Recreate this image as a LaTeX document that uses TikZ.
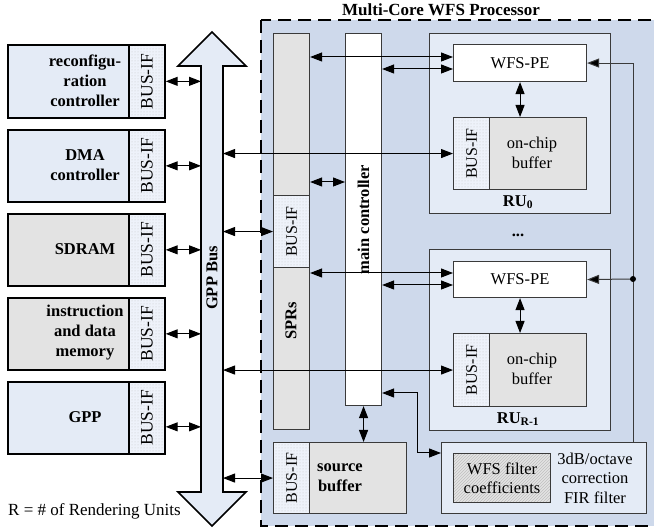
\documentclass[tikz,border=0pt]{standalone}
\usepackage{fontspec}
\setmainfont{Liberation Serif}
\usetikzlibrary{arrows.meta,patterns,calc}
\definecolor{lb}{HTML}{E4EBF6}
\definecolor{gr}{HTML}{E3E3E3}
\definecolor{outerc}{HTML}{CED9EB}
\definecolor{busifc}{HTML}{EEF2FA}
\definecolor{frm}{HTML}{3A3A3A}
\begin{document}
\begin{tikzpicture}[x=1pt,y=-1pt,
  sz/.style 2 args={minimum width=#1pt, minimum height=#2pt},
  bx/.style={draw=frm, line width=1.1pt, inner sep=0pt, anchor=north west},
  lbx/.style={draw=black, line width=1.7pt, inner sep=0pt, anchor=north west},
  busif/.style={preaction={fill=busifc}, pattern=dots, pattern color=black!22},
  bl/.style={font=\fontsize{16.5}{20}\selectfont\bfseries, align=center, inner sep=0pt},
  rl/.style={font=\fontsize{16.5}{19.5}\selectfont, align=center, inner sep=0pt},
  bift/.style={font=\fontsize{17.5}{20}\selectfont, rotate=90, inner sep=0pt},
  bifs/.style={font=\fontsize{16}{19}\selectfont, rotate=90, inner sep=0pt},
  dar/.style={{Triangle[length=12pt,width=9pt]}-{Triangle[length=12pt,width=9pt]}, line width=1pt},
  sar/.style={-{Triangle[length=12pt,width=9pt,fill=black]}, line width=1pt},
  ln/.style={line width=1pt, draw=frm}
]
\useasboundingbox (0,0) rectangle (654,529);
\clip (0,0) rectangle (654,529);

% outer processor box
\draw[fill=outerc, line width=1.8pt, dash pattern=on 13pt off 7pt] (261,20) rectangle (670,526);
\node[font=\fontsize{17}{20}\selectfont\bfseries, inner sep=0pt] (ttl) at (441,10) {Multi-Core WFS Processor};

% GPP bus
\draw[line width=1.7pt, fill=lb] (201,66) -- (178,66) -- (212,32) -- (246,66) -- (223,66) -- (223,492) -- (246,492) -- (212,526) -- (178,492) -- (201,492) -- cycle;
\coordinate (busL) at (201,0);
\coordinate (busR) at (223,0);
\node[font=\fontsize{16.5}{20}\selectfont\bfseries, rotate=90, inner sep=0pt] (bust) at (212,278) {GPP Bus};

% left boxes
\node[lbx, sz={121}{73}, fill=lb] (rc) at (7,44) {};
\node[lbx, sz={36}{73}, busif] (rcb) at (128,44) {};
\node[bift] (rcbt) at (rcb.center) {BUS-IF};
\node[bl] (rct) at (85,80.5) {reconfigu-\\ration\\controller};

\node[lbx, sz={121}{72}, fill=lb] (dma) at (7,129) {};
\node[lbx, sz={36}{72}, busif] (dmab) at (128,129) {};
\node[bift] (dmabt) at (dmab.center) {BUS-IF};
\node[bl] (dmat) at (85,165) {DMA\\controller};

\node[lbx, sz={121}{72}, fill=gr] (sd) at (7,213) {};
\node[lbx, sz={36}{72}, busif] (sdb) at (128,213) {};
\node[bift] (sdbt) at (sdb.center) {BUS-IF};
\node[bl] (sdt) at (85,249) {SDRAM};

\node[lbx, sz={121}{72}, fill=gr] (im) at (7,297) {};
\node[lbx, sz={36}{72}, busif] (imb) at (128,297) {};
\node[bift] (imbt) at (imb.center) {BUS-IF};
\node[bl] (imt) at (85,333) {instruction\\and data\\memory};

\node[lbx, sz={121}{72}, fill=lb] (gpp) at (7,381) {};
\node[lbx, sz={36}{72}, busif] (gppb) at (128,381) {};
\node[bift] (gppbt) at (gppb.center) {BUS-IF};
\node[bl] (gppt) at (85,417) {GPP};

\draw[dar] (rcb.east) -- (rcb.east -| busL);
\draw[dar] (dmab.east) -- (dmab.east -| busL);
\draw[dar] (sdb.east) -- (sdb.east -| busL);
\draw[dar] (imb.east) -- (imb.east -| busL);
\draw[dar] ($(gppb.east)+(0,9)$) -- ($(gppb.east -| busL)+(0,9)$);

\node[font=\fontsize{17}{20}\selectfont, anchor=west, inner sep=0pt] (rnote) at (8,511) {R = \# of Rendering Units};

% SPRs column
\node[bx, sz={36}{396}, fill=gr] (spr) at (273,33) {};
\node[bx, sz={36}{72}, busif] (sprb) at (273,195) {};
\node[bifs] (sprbt) at (sprb.center) {BUS-IF};
\node[bl, rotate=90] (sprt) at (291,321) {SPRs};

% main controller
\node[bx, sz={36}{372}, fill=white] (mc) at (345,33) {};
\node[bl, rotate=90] (mct) at (mc.center) {main controller};

% RU0
\node[bx, sz={181}{180}, fill=lb] (ru0) at (429,33) {};
\node[bx, sz={133}{37}, fill=white] (pe0) at (453,44) {};
\node[rl] (pe0t) at (pe0.center) {WFS-PE};
\node[bx, sz={133}{72}, fill=gr] (buf0) at (453,117) {};
\node[bx, sz={36}{72}, busif] (bb0) at (453,117) {};
\node[bifs] (bb0t) at (bb0.center) {BUS-IF};
\node[rl] (buf0t) at (532,153) {on-chip\\buffer};
\node[bl] (ru0t) at (518,202) {RU\textsubscript{0}};

\node[bl] (dots) at (518,235) {...};

% RU R-1
\node[bx, sz={181}{181}, fill=lb] (ru1) at (429,249) {};
\node[bx, sz={133}{36}, fill=white] (pe1) at (453,261) {};
\node[rl] (pe1t) at (pe1.center) {WFS-PE};
\node[bx, sz={133}{73}, fill=gr] (buf1) at (453,333) {};
\node[bx, sz={36}{73}, busif] (bb1) at (453,333) {};
\node[bifs] (bb1t) at (bb1.center) {BUS-IF};
\node[rl] (buf1t) at (532,369) {on-chip\\buffer};
\node[bl] (ru1t) at (518,419) {RU\textsubscript{R-1}};

% source buffer
\node[bx, sz={133}{71}, fill=gr] (src) at (273,442) {};
\node[bx, sz={36}{71}, busif] (srcb) at (273,442) {};
\node[bifs] (srcbt) at (srcb.center) {BUS-IF};
\node[bl] (srct) at (340,478) {source\\buffer};

% FIR filter
\node[bx, sz={205}{71}, fill=lb] (fir) at (441,442) {};
\node[bx, sz={97}{49}, preaction={fill=gr}, pattern=north east lines, pattern color=black!25] (coef) at (453,453) {};
\node[rl] (coeft) at (coef.center) {WFS filter\\coefficients};
\node[rl] (firt) at (595,478) {3dB/octave\\correction\\FIR filter};

% connectors to bus
\draw[dar] (bb0.west) -- (bb0.west -| busR);
\draw[dar] (sprb.west) -- (sprb.west -| busR);
\draw[dar] (bb1.west) -- (bb1.west -| busR);
\draw[dar] (srcb.west) -- (srcb.west -| busR);

% internal connectors
\draw[dar] (spr.east |- 0,57) -- (pe0.west |- 0,57);
\draw[dar] (mc.east |- 0,69) -- (pe0.west |- 0,69);
\draw[dar] (spr.east |- 0,182) -- (mc.west |- 0,182);
\draw[dar] (spr.east |- 0,273) -- (pe1.west |- 0,273);
\draw[dar] (mc.east |- 0,285) -- (pe1.west |- 0,285);
\draw[dar] (mc.south) -- (mc.south |- src.north);
\draw[dar] (fir.west |- 0,453) -- (417,453) -- (417,393) -- (mc.east |- 0,393);
\draw[dar] (pe0.south) -- (pe0.south |- buf0.north);
\draw[dar] (pe1.south) -- (pe1.south |- buf1.north);

% right feed line
\coordinate (fd) at (633,442);
\coordinate (jn) at (633,279);
\draw[ln, sar] (fd) -- (fd |- pe0.east) -- (pe0.east);
\draw[ln, sar] (jn) -- (pe1.east);
\fill[black] (jn) circle (3pt);
\end{tikzpicture}
\end{document}
